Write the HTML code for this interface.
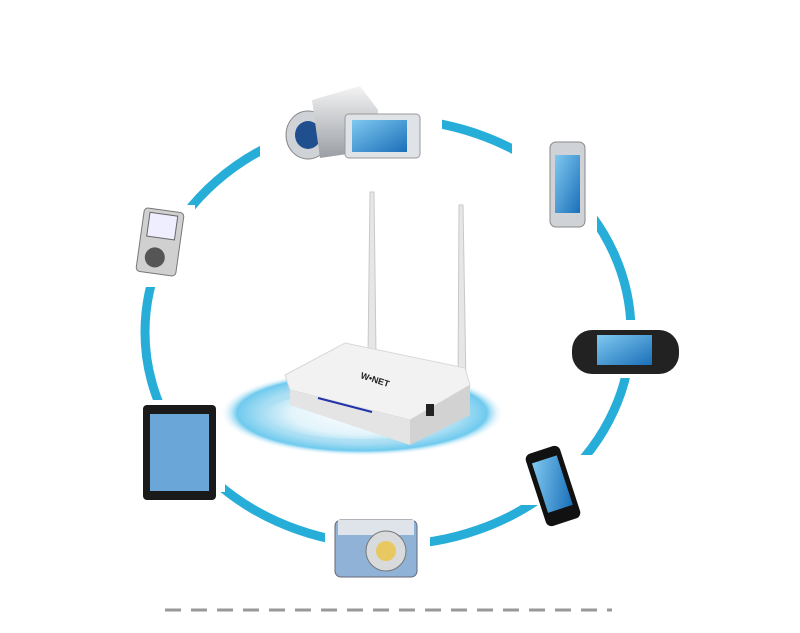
<!DOCTYPE html>
<html><head><style>
html,body{margin:0;padding:0;background:#fff;}
svg{display:block}
</style></head><body>
<svg width="800" height="633" viewBox="0 0 800 633" xmlns="http://www.w3.org/2000/svg">
<defs>
<radialGradient id="glow" cx="50%" cy="50%" r="50%">
<stop offset="0" stop-color="#fff"/>
<stop offset="0.5" stop-color="#e2f4fb"/>
<stop offset="0.75" stop-color="#9ad9f2"/>
<stop offset="0.88" stop-color="#6fcaee"/>
<stop offset="1" stop-color="#fff" stop-opacity="0"/>
</radialGradient>
<linearGradient id="scr" x1="0" y1="0" x2="1" y2="1"><stop offset="0" stop-color="#7fc8f0"/><stop offset="1" stop-color="#1a6fb8"/></linearGradient>
<linearGradient id="silver" x1="0" y1="0" x2="0" y2="1"><stop offset="0" stop-color="#f4f4f4"/><stop offset="1" stop-color="#9a9ea4"/></linearGradient>
</defs>
<ellipse cx="388" cy="332" rx="243" ry="213" fill="none" stroke="#27aed8" stroke-width="9"/>
<rect x="260" y="75" width="182" height="95" fill="#fff"/>
<rect x="512" y="135" width="85" height="100" fill="#fff"/>
<rect x="125" y="205" width="70" height="82" fill="#fff"/>
<rect x="560" y="320" width="130" height="58" fill="#fff"/>
<rect x="125" y="400" width="100" height="92" fill="#fff"/>
<rect x="520" y="455" width="80" height="50" fill="#fff"/>
<rect x="325" y="505" width="105" height="80" fill="#fff"/>
<ellipse cx="362" cy="413" rx="142" ry="43" fill="url(#glow)"/>
<ellipse cx="362" cy="415" rx="100" ry="26" fill="none" stroke="#a8def3" stroke-width="4" opacity="0.6"/>
<path d="M370 192 L374 192 L376 355 L368 355 Z" fill="#e6e6e6" stroke="#c8c8c8"/>
<path d="M459 205 L463 205 L466 385 L458 385 Z" fill="#e6e6e6" stroke="#c8c8c8"/>
<path d="M285 375 L345 343 L465 368 L470 385 L410 420 L290 390 Z" fill="#f2f2f2" stroke="#d8d8d8"/>
<path d="M290 390 L410 420 L410 445 L290 405 Z" fill="#e4e4e4"/>
<path d="M410 420 L470 385 L470 415 L410 445 Z" fill="#d2d2d2"/>
<line x1="318" y1="398" x2="372" y2="412" stroke="#2233aa" stroke-width="2"/>
<rect x="426" y="404" width="8" height="12" fill="#222"/>
<text x="360" y="378" font-family="Liberation Sans, sans-serif" font-size="9" font-weight="bold" fill="#222" transform="rotate(18 360 378)">W•NET</text>
<ellipse cx="308" cy="135" rx="22" ry="24" fill="#cfd3d8" stroke="#888"/>
<ellipse cx="308" cy="135" rx="13" ry="14" fill="#1f4f8f"/>
<path d="M312 100 L360 86 L378 110 L375 150 L320 158 Z" fill="url(#silver)"/>
<rect x="345" y="114" width="75" height="44" rx="4" fill="#dfe2e6" stroke="#999"/>
<rect x="352" y="120" width="55" height="32" fill="url(#scr)"/>
<rect x="550" y="142" width="35" height="85" rx="6" fill="#cfd2d6" stroke="#888"/>
<rect x="555" y="155" width="25" height="58" fill="url(#scr)"/>
<rect x="140" y="210" width="40" height="64" rx="4" fill="#d0d0d0" stroke="#777" transform="rotate(8 160 242)"/>
<rect x="146" y="214" width="28" height="24" fill="#eef" stroke="#666" transform="rotate(8 160 242)"/>
<circle cx="157" cy="258" r="10" fill="#555" transform="rotate(8 160 242)"/>
<rect x="572" y="330" width="107" height="44" rx="20" fill="#222"/>
<rect x="597" y="335" width="55" height="30" fill="url(#scr)"/>
<rect x="143" y="405" width="73" height="95" rx="4" fill="#1a1a1a"/>
<rect x="150" y="414" width="59" height="77" fill="#6aa7d8"/>
<rect x="535" y="448" width="36" height="76" rx="6" fill="#111" transform="rotate(-18 553 486)"/>
<rect x="540" y="458" width="26" height="52" fill="url(#scr)" transform="rotate(-18 553 486)"/>
<rect x="335" y="520" width="82" height="57" rx="6" fill="#8fb2d6" stroke="#667"/>
<rect x="338" y="520" width="76" height="15" fill="#dfe4ea"/>
<circle cx="386" cy="551" r="20" fill="#d8dadc" stroke="#777"/>
<circle cx="386" cy="551" r="10" fill="#e8c860"/>
<line x1="165" y1="610" x2="612" y2="610" stroke="#999" stroke-width="3" stroke-dasharray="16 10"/>
</svg>
</body></html>
